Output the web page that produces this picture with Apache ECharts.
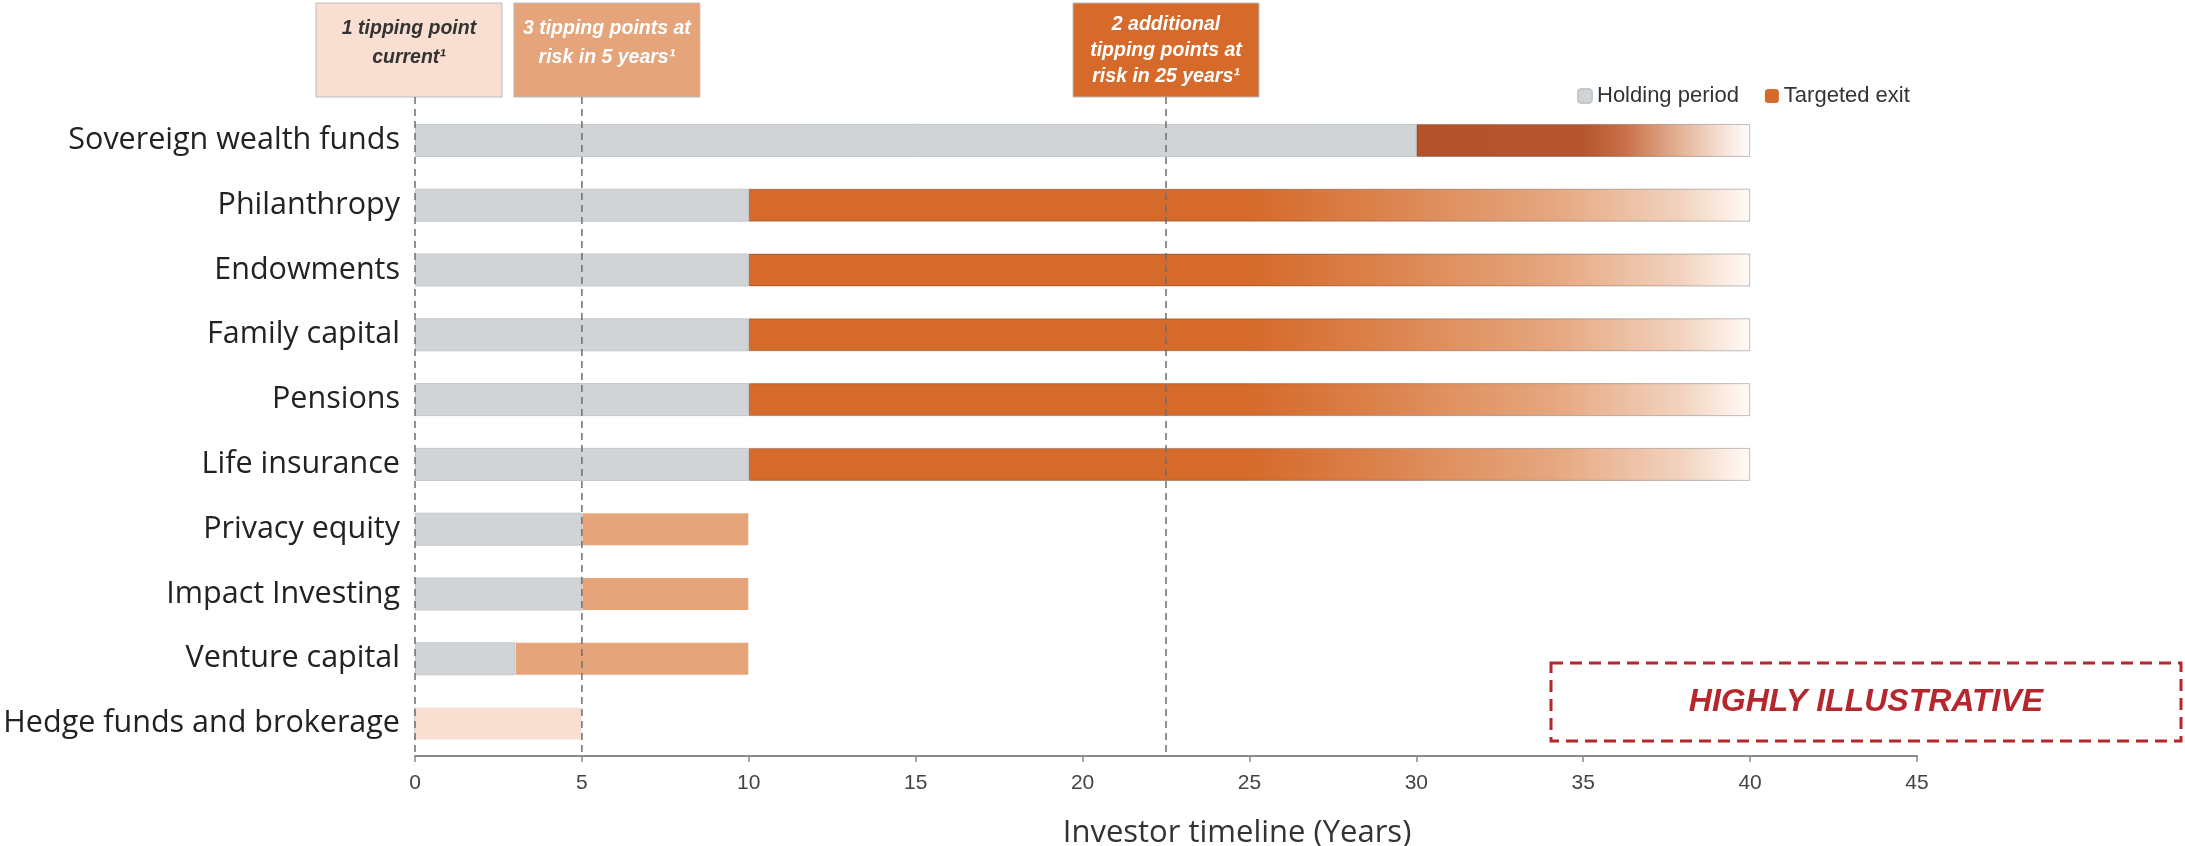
<!DOCTYPE html>
<html>
<head>
<meta charset="utf-8">
<script src="https://cdn.jsdelivr.net/npm/echarts@6/dist/echarts.min.js"></script>
<style>
html,body{margin:0;padding:0;background:#fff;}
#c{width:2185px;height:846px;}
</style>
</head>
<body>
<div id="c"></div>
<script>
// ---- data ----
const categories = ['Sovereign wealth funds','Philanthropy','Endowments','Family capital','Pensions','Life insurance','Privacy equity','Impact Investing','Venture capital','Hedge funds and brokerage'];
const holdingPeriod = [30,10,10,10,10,10,5,5,3,0];
const targetedExit = [10,30,30,30,30,30,5,5,7,5];
const exitKind = ['swf','fade','fade','fade','fade','fade','mid','mid','mid','light'];
const xMin = 0, xMax = 45, xStep = 5;
const tippingYears = [0, 5, 22.5];
const tippingText = ['1 tipping point\ncurrent¹', '3 tipping points at\nrisk in 5 years¹', '2 additional\ntipping points at\nrisk in 25 years¹'];
const legendNames = ['Holding period','Targeted exit'];
const axisTitle = 'Investor timeline (Years)';
const stampText = 'HIGHLY ILLUSTRATIVE';

// ---- styles ----
const GREY = '#d1d4d7';
const ORANGE = '#d56a2b';
const MID = '#e5a47a';
const LIGHT = '#f8dfd2';
const RUST = '#b4522b';
const GRID = {left:415, right:268, top:108, bottom:90, containLabel:false, outerBoundsMode:'none'};
const boxStyle = [
  {fill:LIGHT, text:'#333', dx:-6, lines:2},
  {fill:MID, text:'#fff', dx:25, lines:2},
  {fill:ORANGE, text:'#fff', dx:0, lines:3}
];

function exitColor(kind){
  if(kind==='fade') return {type:'linear',x:0,y:0,x2:1,y2:0,colorStops:[
    {offset:0,color:ORANGE},{offset:0.5,color:ORANGE},{offset:0.62,color:'#db8049'},
    {offset:0.8,color:'#e5a67e'},{offset:0.93,color:'#f2d2bd'},{offset:1,color:'#fffaf7'}]};
  if(kind==='swf') return {type:'linear',x:0,y:0,x2:1,y2:0,colorStops:[
    {offset:0,color:RUST},{offset:0.5,color:'#b65530'},{offset:0.62,color:'#c86f47'},
    {offset:0.8,color:'#e6b69b'},{offset:0.93,color:'#f8e6dc'},{offset:1,color:'#fffdfc'}]};
  if(kind==='mid') return MID;
  return LIGHT;
}

const chart = echarts.init(document.getElementById('c'));
const option = {
  backgroundColor:'#fff',
  animation:false,
  grid:GRID,
  legend:{
    data:legendNames, left:1572, top:80, itemWidth:14, itemHeight:14, itemGap:26,
    textStyle:{fontFamily:'Liberation Sans, Arial', fontSize:22, color:'#333'}
  },
  xAxis:{
    type:'value', min:xMin, max:xMax, interval:xStep,
    splitLine:{show:false},
    axisLine:{show:true, lineStyle:{color:'#8a8a8a', width:2}},
    axisTick:{show:true, length:6, lineStyle:{color:'#8a8a8a', width:1.5}},
    axisLabel:{fontFamily:'Liberation Sans, Arial', fontSize:21, color:'#444', margin:17},
    name:axisTitle, nameLocation:'middle', nameGap:62,
    nameTextStyle:{fontFamily:'Open Sans', fontSize:31, color:'#333', padding:[0,0,0,142]}
  },
  yAxis:{
    type:'category', data:categories, inverse:true,
    axisLine:{show:false}, axisTick:{show:false},
    axisLabel:{fontFamily:'Open Sans', fontSize:30.5, color:'#222', margin:15}
  },
  series:[
    {
      name:legendNames[0], type:'bar', stack:'t', barWidth:33,
      itemStyle:{color:GREY, borderColor:'#c4c7ca', borderWidth:1},
      data:holdingPeriod
    },
    {
      name:legendNames[1], type:'bar', stack:'t', barWidth:33,
      itemStyle:{color:ORANGE},
      data:targetedExit.map((v,i)=>({value:v, itemStyle:{
        color:exitColor(exitKind[i]),
        borderColor:(exitKind[i]==='fade'||exitKind[i]==='swf')?'rgba(0,0,0,0.13)':'transparent',
        borderWidth:1
      }}))
    }
  ]
};
chart.setOption(option);

// annotations tied to the x scale
const graphics = [];
const axisBottom = 846 - GRID.bottom;
const boxTop = 3, boxH = 94, boxW = 186;
tippingYears.forEach((yr,i)=>{
  const px = chart.convertToPixel({xAxisIndex:0}, yr);
  graphics.push({type:'line', z:50, shape:{x1:px,y1:boxTop+boxH,x2:px,y2:axisBottom},
    style:{stroke:'#6e6e6e', lineWidth:1.5, lineDash:[7,5]}});
  const bs = boxStyle[i];
  const left = px + bs.dx - boxW/2;
  graphics.push({type:'rect', z:40, shape:{x:left,y:boxTop,width:boxW,height:boxH},
    style:{fill:bs.fill, stroke:'#bdbdbd', lineWidth:1}});
  graphics.push({type:'text', z:41, x:left+boxW/2, y:bs.lines===3?boxTop+boxH/2+1:boxTop+boxH/2-7,
    style:{text:tippingText[i], fill:bs.text, font:'italic bold 19.5px "Liberation Sans", Arial',
      align:'center', verticalAlign:'middle', lineHeight:bs.lines===3?26:29}});
});
graphics.push({type:'rect', z:40, shape:{x:1551,y:663,width:630,height:78},
  style:{fill:'none', stroke:'#b5272d', lineWidth:3, lineDash:[12,7]}});
graphics.push({type:'text', z:41, x:1866, y:702,
  style:{text:stampText, fill:'#b5272d', font:'italic bold 32px "Liberation Sans", Arial',
    align:'center', verticalAlign:'middle'}});
chart.setOption({graphic:graphics});
</script>
</body>
</html>
